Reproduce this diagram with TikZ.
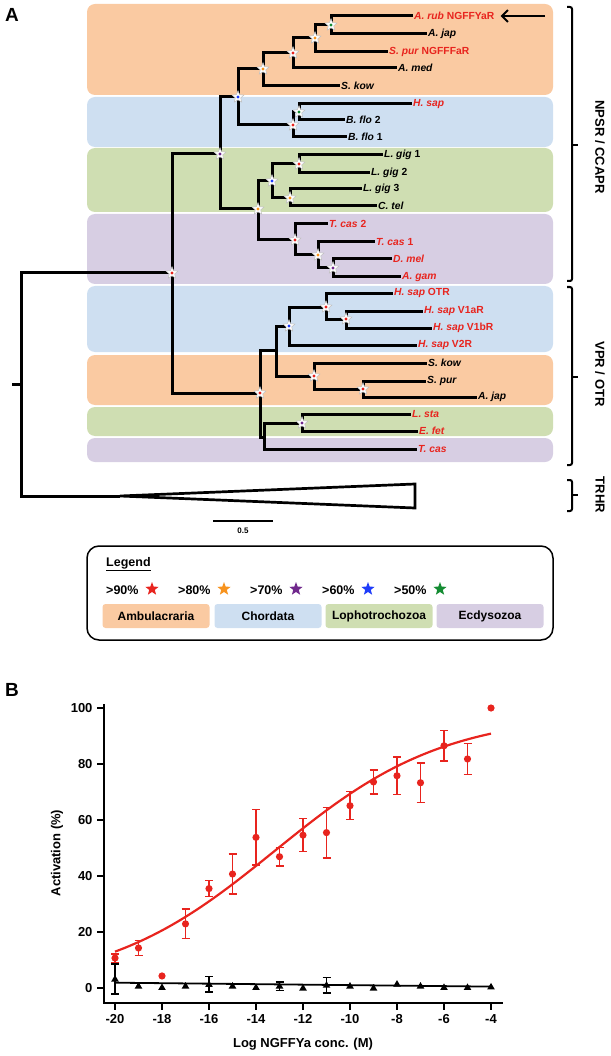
\documentclass[tikz,border=0pt]{standalone}
\usepackage{fontspec}
\setmainfont{Liberation Sans}
\usetikzlibrary{shapes.geometric,arrows.meta}
\definecolor{amb}{RGB}{250,202,162}
\definecolor{cho}{RGB}{206,223,241}
\definecolor{lop}{RGB}{207,222,178}
\definecolor{ecd}{RGB}{215,206,227}
\definecolor{sred}{RGB}{232,36,30}
\definecolor{sorange}{RGB}{247,147,30}
\definecolor{spurple}{RGB}{112,40,140}
\definecolor{sblue}{RGB}{30,60,250}
\definecolor{sgreen}{RGB}{20,140,50}
\begin{document}
\begin{tikzpicture}[x=1pt,y=-1pt,
  band/.style={rounded corners=8pt},
  branch/.style={line width=3pt},
  leaf/.style={font=\fontsize{10.3}{12}\selectfont\bfseries, inner sep=1pt, anchor=west},
  bstar/.style={star, star points=5, star point ratio=2.2, minimum size=12.5pt, inner sep=0pt, fill=white, draw=black!25, line width=0.5pt},
  lstar/.style={star, star points=5, star point ratio=2.4, minimum size=14pt, inner sep=0pt},
  brk/.style={line width=2pt, rounded corners=2pt},
  brklab/.style={rotate=-90, font=\fontsize{13}{15}\selectfont\bfseries},
  legtxt/.style={font=\fontsize{12.5}{14}\selectfont\bfseries, anchor=west, inner sep=0pt},
  cat/.style={rounded corners=3pt, minimum width=107pt, minimum height=24pt, font=\fontsize{12}{14}\selectfont\bfseries},
  axis/.style={line width=2pt},
  tick/.style={font=\fontsize{13}{15}\selectfont\bfseries},
  ebar/.style={line width=1.5pt}
]
\useasboundingbox (0,0) rectangle (610,1056);

% ---------- panel A ----------
\node[font=\fontsize{19}{20}\selectfont\bfseries] (labA) at (12,15) {A};

% bands
\fill[amb, band] (87,4) rectangle (553,95);
\fill[cho, band] (87,97) rectangle (553,147);
\fill[lop, band] (87,148) rectangle (553,212);
\fill[ecd, band] (87,214) rectangle (553,284);
\fill[cho, band] (87,286) rectangle (553,352);
\fill[amb, band] (87,355) rectangle (553,405);
\fill[lop, band] (87,407) rectangle (553,436);
\fill[ecd, band] (87,438) rectangle (553,462);

% internal nodes
\foreach \n/\x/\y in {N1/331/25, N2/315/38, N3/293/53, N4/263/69, N5/238/97,
  N6/299/112, N7/293/125, N8/220/154, NLE/258/209, NL/272/181, NLg/299/164,
  NLc/290/198, NE/295/240, NE2/318/255, NE3/333/268, N9/172/273, NV/260/393,
  NV1/276/350, NVc/289/326, NVh/326/307, NVv/346/319, NVa/314/376, NVs/363/389,
  NV2/264/437, NVl/302/423, R0/21/384, T0/120/496, stub/12/384}
  {\coordinate (\n) at (\x,\y);}

% leaves
\foreach \n/\x/\y/\c/\t in {
  Arub/413/16/sred/{\textit{A. rub} NGFFYaR},
  Ajap1/427/34/black/{\textit{A. jap}},
  Spur1/388/52/sred/{\textit{S. pur} NGFFFaR},
  Amed/397/68/black/{\textit{A. med}},
  Skow1/340/86/black/{\textit{S. kow}},
  Hsap/412/104/sred/{\textit{H. sap}},
  Bflo2/345/120/black/{\textit{B. flo} 2},
  Bflo1/347/137/black/{\textit{B. flo} 1},
  Lgig1/383/155/black/{\textit{L. gig} 1},
  Lgig2/370/173/black/{\textit{L. gig} 2},
  Lgig3/362/189/black/{\textit{L. gig} 3},
  Ctel/377/206/black/{\textit{C. tel}},
  Tcas2/328/224/sred/{\textit{T. cas} 2},
  Tcas1/375/242/sred/{\textit{T. cas} 1},
  Dmel/392/259/sred/{\textit{D. mel}},
  Agam/401/277/sred/{\textit{A. gam}},
  OTR/393/293/sred/{\textit{H. sap} OTR},
  V1aR/423/311/sred/{\textit{H. sap} V1aR},
  V1bR/432/328/sred/{\textit{H. sap} V1bR},
  V2R/417/345/sred/{\textit{H. sap} V2R},
  Skow2/427/363/black/{\textit{S. kow}},
  Spur2/426/381/black/{\textit{S. pur}},
  Ajap2/477/397/black/{\textit{A. jap}},
  Lsta/411/414/sred/{\textit{L. sta}},
  Efet/418/431/sred/{\textit{E. fet}},
  Tcas/417/449/sred/{\textit{T. cas}}}
  {\coordinate (\n) at (\x,\y);
   \node[leaf, text=\c] (l\n) at (\n) {\t};}

% branches
\foreach \p/\c in {N1/Arub, N1/Ajap1, N2/N1, N2/Spur1, N3/N2, N3/Amed, N4/N3, N4/Skow1,
  N5/N4, N5/N7, N7/N6, N7/Bflo1, N6/Hsap, N6/Bflo2, N8/N5, N8/NLE, NLE/NL, NLE/NE,
  NL/NLg, NL/NLc, NLg/Lgig1, NLg/Lgig2, NLc/Lgig3, NLc/Ctel, NE/Tcas2, NE/NE2,
  NE2/Tcas1, NE2/NE3, NE3/Dmel, NE3/Agam, N9/N8, N9/NV, NV/NV1, NV/NV2, NV1/NVc,
  NV1/NVa, NVc/NVh, NVc/V2R, NVh/OTR, NVh/NVv, NVv/V1aR, NVv/V1bR, NVa/Skow2,
  NVa/NVs, NVs/Spur2, NVs/Ajap2, NV2/NVl, NV2/Tcas, NVl/Lsta, NVl/Efet, R0/N9, R0/T0}
  {\draw[branch] (\p) |- (\c);}
\draw[branch] (stub) -- (R0);

% TRHR collapsed clade
\coordinate (Ttop) at (415,484);
\coordinate (Tbot) at (415,508);
\draw[line width=2.7pt] (T0) -- (Ttop) -- (Tbot) -- cycle;

% support stars
\foreach \n/\c in {N1/sgreen, N2/sorange, N3/sred, N4/sorange, N5/sblue, N6/sgreen,
  N7/sred, N8/spurple, NLE/sorange, NL/sblue, NLg/sred, NLc/sorange, NE/sred,
  NE2/sorange, NE3/spurple, N9/sred, NV/sred, NVc/sblue, NVh/sred, NVv/sred,
  NVa/sred, NVs/sred, NVl/spurple}
  {\node[bstar] at (\n) {};
   \fill[\c] (\n) circle (1.6pt);}

% arrow
\coordinate (arrS) at (545,16);
\draw[line width=2pt, -{Straight Barb[length=6pt,width=12pt]}] (arrS) -- ([xshift=5pt]lArub.east);

% brackets
\draw[brk] (567,7) -- (572,7) -- (572,281) -- (567,281);
\draw[brk] (572,145) -- (578,145);
\node[brklab] (bNPSR) at (600,147) {NPSR / CCAPR};
\draw[brk] (567,287) -- (572,287) -- (572,465) -- (567,465);
\draw[brk] (572,377) -- (578,377);
\node[brklab] (bVPR) at (600,374) {VPR / OTR};
\draw[brk] (567,480) -- (572,480) -- (572,511) -- (567,511);
\draw[brk] (572,495) -- (578,495);
\node[brklab] (bTRHR) at (600,495) {TRHR};

% scale bar
\draw[line width=2pt] (213,521) -- (273,521);
\node[font=\fontsize{8}{9}\selectfont\bfseries] (sc) at (243,531) {0.5};

% legend
\draw[line width=1.5pt, rounded corners=12pt] (87,546) rectangle (553,640);
\node[legtxt] (legT) at (106,564) {\underline{Legend}};
\foreach \t/\x/\c in {>90\%/106/sred, >80\%/178/sorange, >70\%/250/spurple, >60\%/322/sblue, >50\%/394/sgreen}
  {\node[legtxt] at (\x,590) {\t};
   \node[lstar, fill=\c] at (\x+46,589) {};}
\node[cat, fill=amb] (cA) at (156,616) {Ambulacraria};
\node[cat, fill=cho] (cC) at (268,616) {Chordata};
\node[cat, fill=lop] (cL) at (379,616) {Lophotrochozoa};
\node[cat, fill=ecd] (cE) at (490,616) {Ecdysozoa};

% ---------- panel B ----------
\node[font=\fontsize{19}{20}\selectfont\bfseries] (labB) at (12,690) {B};
\draw[axis] (104,704) -- (104,1003) -- (503,1003);
\foreach \v in {0,20,40,60,80,100}
  {\draw[axis] (97,988-2.8*\v) -- (104,988-2.8*\v);
   \node[tick, anchor=east] at (96,988-2.8*\v) {\v};}
\foreach \v in {-20,-18,-16,-14,-12,-10,-8,-6,-4}
  {\draw[axis] (585+23.5*\v,1003) -- (585+23.5*\v,1010);
   \node[tick] at (585+23.5*\v,1019) {\v};}
\node[font=\fontsize{13}{15}\selectfont\bfseries, rotate=90] (ylab) at (57,853) {Activation (\%)};
\node[font=\fontsize{13}{15}\selectfont\bfseries] (xlab) at (303,1044) {Log NGFFYa conc. (M)};

\begin{scope}[shift={(585pt,-988pt)}, x=23.5pt, y=2.8pt]
  % black series
  \draw[line width=1.8pt] (-20,1.9) -- (-4,0.5);
  \foreach \X/\Y/\E in {-20/3.2/5.3, -16/1.3/2.8, -13/0.7/1.5, -11/1/2.8}
    {\draw[ebar] (\X,\Y-\E) -- (\X,\Y+\E);
     \draw[ebar] (\X,\Y-\E) ++(-4pt,0) -- ++(8pt,0);
     \draw[ebar] (\X,\Y+\E) ++(-4pt,0) -- ++(8pt,0);}
  \foreach \X/\Y in {-20/3.2, -19/0.7, -18/0.2, -17/0.7, -16/1.3, -15/0.7, -14/0.2, -13/0.7,
     -12/0, -11/1, -10/0.7, -9/0, -8/1.4, -7/0.7, -6/0.2, -5/0.2, -4/0.4}
    {\fill (\X,\Y) ++(0pt,4pt) -- ++(-3.8pt,-6.5pt) -- ++(7.6pt,0pt) -- cycle;}
  % red series
  \draw[sred, line width=2.2pt, domain=-20:-4, samples=80, smooth]
     plot (\x, {98/(1+exp(0.2763*(-13.2-\x)))});
  \foreach \X/\Y/\E in {-20/10.7/1.5, -19/14.3/2.7, -17/22.9/5.3, -16/35.5/2.9,
     -15/40.7/7.1, -14/53.8/9.9, -13/46.9/3.3, -12/54.6/5.9, -11/55.5/9, -10/65.1/5,
     -9/73.6/4.3, -8/75.8/6.7, -7/73.3/7, -6/86.5/5.5, -5/81.8/5.6}
    {\draw[ebar, sred] (\X,\Y-\E) -- (\X,\Y+\E);
     \draw[ebar, sred] (\X,\Y-\E) ++(-4pt,0) -- ++(8pt,0);
     \draw[ebar, sred] (\X,\Y+\E) ++(-4pt,0) -- ++(8pt,0);}
  \foreach \X/\Y in {-20/10.7, -19/14.3, -18/4.3, -17/22.9, -16/35.5, -15/40.7, -14/53.8,
     -13/46.9, -12/54.6, -11/55.5, -10/65.1, -9/73.6, -8/75.8, -7/73.3, -6/86.5, -5/81.8, -4/100}
    {\fill[sred] (\X,\Y) circle (3.6pt);}
\end{scope}
\end{tikzpicture}
\end{document}
